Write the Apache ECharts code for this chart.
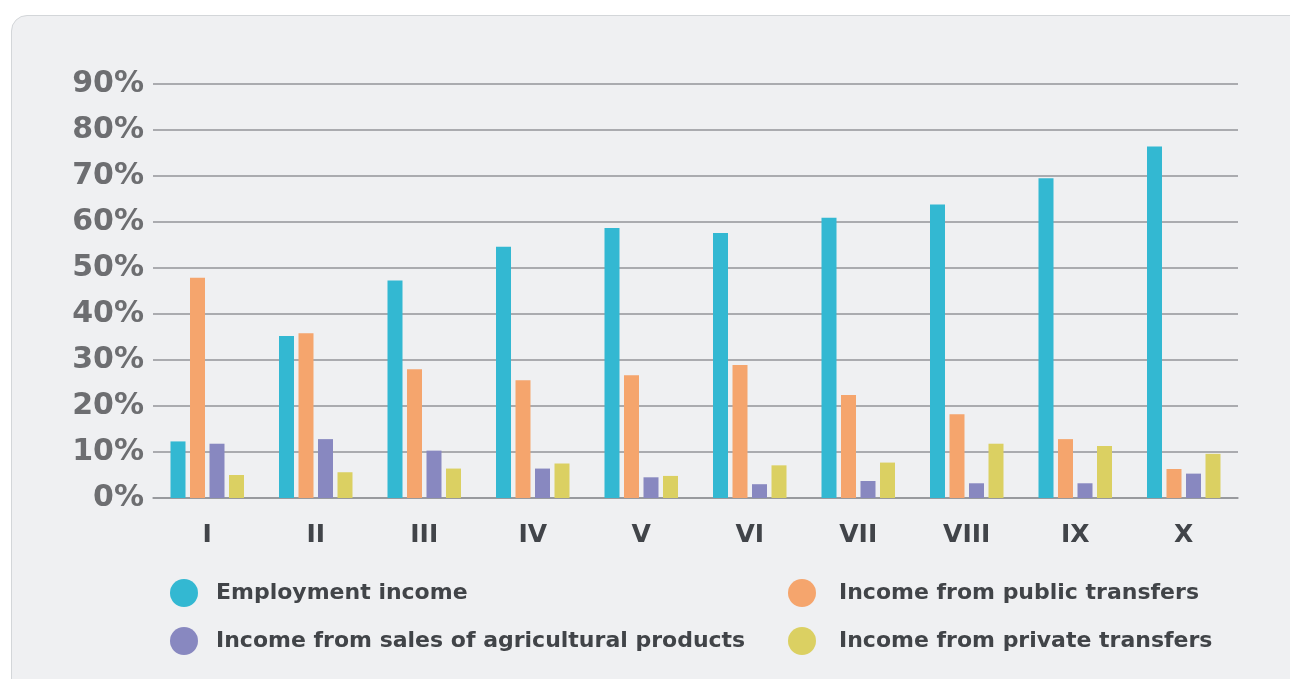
<!DOCTYPE html>
<html>
<head>
<meta charset="utf-8">
<script src="https://cdn.jsdelivr.net/npm/echarts@6/dist/echarts.min.js"></script>
<style>
  html, body { margin: 0; padding: 0; background: #ffffff; width: 1290px; height: 679px; overflow: hidden; }
  #panel {
    position: absolute; left: 11px; top: 15px; width: 1300px; height: 690px;
    background: #eff0f2; border: 1px solid #d3d6d9; border-radius: 16px; box-sizing: border-box;
  }
  #chart { position: absolute; left: 0; top: 0; width: 1290px; height: 679px; }
</style>
</head>
<body>
<div id="panel"></div>
<div id="chart"></div>
<script>
// Income deciles
const categories = ['I', 'II', 'III', 'IV', 'V', 'VI', 'VII', 'VIII', 'IX', 'X'];

// Share of household income by source, %
const employmentIncome = [12.3, 35.2, 47.3, 54.6, 58.7, 57.6, 60.9, 63.8, 69.5, 76.4];
const publicTransfers  = [47.9, 35.8, 28.0, 25.6, 26.7, 28.9, 22.4, 18.2, 12.8, 6.3];
const agriculturalSales = [11.8, 12.8, 10.3, 6.4, 4.5, 3.0, 3.7, 3.2, 3.2, 5.3];
const privateTransfers = [5.0, 5.6, 6.4, 7.5, 4.8, 7.1, 7.7, 11.8, 11.3, 9.6];

const seriesNames = [
  'Employment income',
  'Income from public transfers',
  'Income from sales of agricultural products',
  'Income from private transfers'
];
const seriesColors = ['#33b8d2', '#f5a56d', '#8888c0', '#dbd062'];
const seriesData = [employmentIncome, publicTransfers, agriculturalSales, privateTransfers];

const FONT = 'DejaVu Sans';
const chart = echarts.init(document.getElementById('chart'), null, { renderer: 'canvas' });

chart.setOption({
  backgroundColor: 'transparent',
  animation: false,
  grid: { left: 153, right: 52, top: 84, bottom: 181, containLabel: false },
  legend: [
    {
      left: 165, top: 574, orient: 'vertical',
      icon: 'circle', itemWidth: 28, itemHeight: 28, itemGap: 20,
      data: [seriesNames[0], seriesNames[2]],
      textStyle: { fontFamily: FONT, fontWeight: 'bold', fontSize: 22, color: '#414448', padding: [0, 0, 0, 13] }
    },
    {
      left: 783, top: 574, orient: 'vertical',
      icon: 'circle', itemWidth: 28, itemHeight: 28, itemGap: 20,
      data: [seriesNames[1], seriesNames[3]],
      textStyle: { fontFamily: FONT, fontWeight: 'bold', fontSize: 22, color: '#414448', padding: [0, 0, 0, 18] }
    }
  ],
  xAxis: {
    type: 'category',
    data: categories,
    axisLine: { show: true, lineStyle: { color: '#939598', width: 1.5 } },
    axisTick: { show: false },
    axisLabel: { fontFamily: FONT, fontWeight: 'bold', fontSize: 25, color: '#414449', margin: 25 }
  },
  yAxis: {
    type: 'value',
    min: 0, max: 90, interval: 10,
    axisLine: { show: false },
    axisTick: { show: false },
    splitLine: { lineStyle: { color: '#939598', width: 1.5 } },
    axisLabel: { formatter: '{value}%', fontFamily: FONT, fontWeight: 'bold', fontSize: 30, color: '#6d6e71', margin: 9 }
  },
  series: seriesData.map((d, i) => ({
    name: seriesNames[i],
    type: 'bar',
    data: d,
    barWidth: 15,
    barGap: '30%',
    itemStyle: { color: seriesColors[i] }
  }))
});
</script>
</body>
</html>
